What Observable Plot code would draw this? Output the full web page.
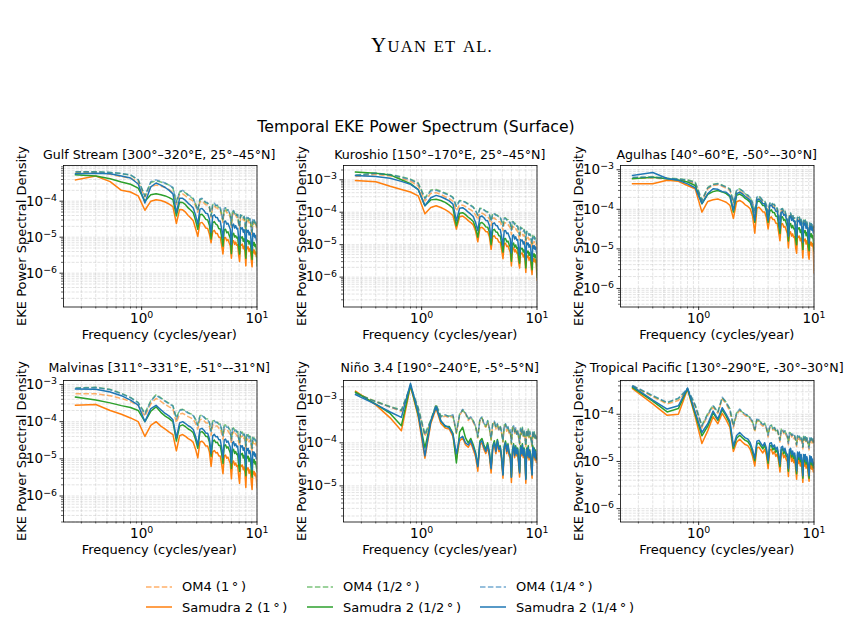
<!DOCTYPE html>
<html>
<head>
<meta charset="utf-8">
<script src="https://cdn.jsdelivr.net/npm/d3@7"></script>
<script src="https://cdn.jsdelivr.net/npm/@observablehq/plot@0.6"></script>
<style>
  body { margin: 0; background: #fff; }
  #fig { position: relative; width: 863px; height: 620px; overflow: hidden; background: #fff;
         font-family: "DejaVu Sans", sans-serif; color: #000; }
  .lbl { position: absolute; white-space: nowrap; line-height: 1; transform: translate(-50%, -50%); }
  .panel { position: absolute; }
  .leg { position: absolute; white-space: nowrap; font-size: 13px; line-height: 1; display: flex; align-items: center; }
</style>
</head>
<body>
<div id="fig"></div>
<script>
// Spectral density values are stored in units of 1e-7.
const PSD_UNIT = 1e-7;

// Frequencies (cycles/year)
const freq = [
  0.267, 0.4, 0.533, 0.667, 0.8, 0.933, 1.067, 1.2, 1.333, 1.467, 1.6, 1.733, 1.867,
  2.0, 2.133, 2.267, 2.4, 2.533, 2.667, 2.8, 2.933, 3.067,
  3.2, 3.333, 3.467, 3.6, 3.733, 3.867, 4.0,
  4.133, 4.267, 4.4, 4.533, 4.667, 4.8, 4.933, 5.067,
  5.2, 5.333, 5.467, 5.6, 5.733, 5.867, 6.0,
  6.133, 6.267, 6.4, 6.533, 6.667, 6.8, 6.933, 7.067,
  7.2, 7.333, 7.467, 7.6, 7.733, 7.867, 8.0,
  8.133, 8.267, 8.4, 8.533, 8.667, 8.8, 8.933, 9.067,
  9.2, 9.333, 9.467, 9.6, 9.733, 9.867, 10.0
];

// ---- Gulf Stream ----
const gulf_om4_1 = [
  6300,6300,5600,4800,4400,3400,1300,2500,2800,2600,2400,2100,1700,
  810,1500,1600,1400,1200,1100,1000,740,490,
  950,1000,890,790,780,630,350,
  710,740,660,650,560,560,390,260,
  540,550,470,490,430,360,190,
  440,460,380,410,350,360,220,170,
  360,340,350,300,320,250,130,
  310,280,300,250,280,240,150,120,
  260,230,250,210,230,190,170];
const gulf_sam_1 = [
  3900,5000,3500,2000,1800,1400,560,1000,1100,1050,950,830,710,
  240,590,575,495,400,340,285,175,105,
  245,258,220,180,175,122,70,
  144,155,126,126,100,100,61,34,
  96,98,80,86,70,58,26,
  75,80,63,73,60,62,32,21,
  65,60,64,48,57,39,16,
  55,48,54,40,48,40,22,15,
  46,37,44,34,39,29,35];
const gulf_om4_2 = [
  6500,6600,6300,5800,5300,3900,1400,3300,3700,3400,3100,2800,2300,
  950,1800,1900,1700,1450,1300,1150,850,560,
  1100,1150,1000,900,880,720,400,
  800,850,740,760,640,650,450,300,
  610,640,540,570,490,420,220,
  500,530,440,470,400,420,250,200,
  410,390,400,340,370,290,150,
  350,320,340,290,320,280,170,140,
  300,260,290,240,270,220,190];
const gulf_sam_2 = [
  5400,5000,4200,3400,2950,2300,1000,1500,1600,1500,1400,1260,1100,
  390,940,920,800,650,560,475,295,165,
  420,435,375,313,300,215,89,
  255,270,230,217,171,171,102,56,
  162,165,133,142,114,94,35,
  120,129,101,110,95,100,51,34,
  104,95,102,77,91,63,26,
  88,77,80,64,77,64,35,24,
  74,60,71,55,63,46,16];
const gulf_om4_4 = [
  6600,6500,6300,5900,5400,4000,1350,3500,3900,3500,3200,2800,2400,
  900,1850,2000,1750,1500,1350,1200,820,540,
  1150,1200,1050,930,900,700,380,
  830,880,760,780,660,670,430,290,
  630,660,560,580,500,410,210,
  520,550,450,480,410,430,240,190,
  420,400,410,350,380,280,140,
  360,330,350,300,330,280,160,130,
  310,270,300,250,280,230,200];
const gulf_sam_4 = [
  5800,6000,5800,5000,4400,3000,890,2500,3200,2800,2400,2000,1600,
  480,1200,1200,1050,870,760,650,410,230,
  600,630,550,460,450,320,135,
  390,420,350,350,280,280,170,93,
  275,280,230,245,200,165,63,
  215,230,180,210,170,178,91,60,
  186,170,182,138,162,112,46,
  158,138,155,115,138,115,62,43,
  132,107,126,98,112,83,70];

// ---- Kuroshio ----
const kuro_om4_1 = [
  12500,14500,13000,11000,9000,6500,2200,3800,4000,3500,3000,2600,2200,
  1100,1700,1650,1500,1300,1180,1050,820,590,
  950,930,870,780,740,610,390,
  660,660,600,580,510,510,390,270,
  470,470,420,420,370,330,205,
  360,355,300,315,270,265,180,140,
  245,225,225,185,200,165,100,
  180,162,170,140,150,133,95,76,
  133,113,126,104,112,94,72];
const kuro_sam_1 = [
  9500,8700,6300,5000,4200,3200,890,1400,1580,1400,1200,1000,790,
  300,726,760,660,550,480,407,264,122,
  326,342,304,252,248,176,71,
  178,188,156,152,120,118,70,37,
  108,110,88,92,72,59,22,
  74,80,60,70,55,58,29,19,
  58,53,55,42,49,33,14,
  47,40,45,33,40,33,18,12,
  38,31,37,29,34,25,8];
const kuro_om4_2 = [
  14000,16000,14500,12500,10500,8000,2800,4800,5000,4400,3900,3400,2900,
  1550,2300,2250,2050,1800,1650,1450,1150,820,
  1320,1300,1200,1080,1030,860,540,
  920,910,840,810,720,700,540,380,
  660,670,590,600,530,470,290,
  520,500,430,450,380,375,260,200,
  350,320,320,265,290,230,142,
  260,235,240,200,215,190,135,108,
  190,162,180,150,160,134,105];
const kuro_sam_2 = [
  17400,15800,14100,10000,7600,5000,1580,2400,2500,2300,2000,1660,1320,
  380,925,965,840,700,610,520,335,170,
  457,480,425,353,347,246,100,
  280,296,246,240,189,186,110,59,
  151,154,123,129,101,83,31,
  104,112,84,98,77,81,40,27,
  81,74,77,59,69,46,19,
  66,56,63,46,56,46,25,17,
  53,44,52,40,48,35,10];
const kuro_om4_4 = [
  13500,15800,14100,12000,10000,7600,2600,4500,4700,4200,3700,3300,2800,
  1480,2240,2190,2000,1740,1580,1410,1100,790,
  1290,1260,1170,1050,1000,830,525,
  890,890,810,790,690,690,525,370,
  645,645,575,575,510,455,280,
  500,490,415,435,370,365,250,195,
  340,310,310,255,280,225,138,
  250,225,235,195,210,185,132,105,
  185,158,175,145,155,130,100];
const kuro_sam_4 = [
  13500,12600,11200,8900,7200,5000,1580,2800,3300,3000,2600,2240,1780,
  540,1320,1380,1200,1000,870,740,480,270,
  725,760,675,560,550,390,158,
  445,470,390,380,300,295,175,93,
  270,275,220,230,180,148,56,
  186,200,150,175,138,145,72,48,
  145,132,138,105,123,83,34,
  117,100,112,83,100,83,45,31,
  95,78,93,72,85,63,50];

// ---- Agulhas ----
const agul_om4_1 = [
  6000,6200,5800,5500,5200,4500,1580,3300,4000,4200,3800,3400,3000,
  1350,2700,2900,2600,2250,2050,1780,1330,760,
  1830,1950,1740,1490,1490,1170,760,
  1300,1400,1190,1190,960,960,630,470,
  920,940,770,800,650,560,300,
  680,730,570,650,530,550,325,280,
  590,530,570,430,500,380,215,
  500,430,480,360,430,360,225,200,
  410,340,400,315,370,290,340];
const agul_sam_1 = [
  4400,4400,5400,5100,4000,3300,850,1580,1740,1820,1660,1510,1260,
  590,1550,1670,1520,1300,1180,1030,680,250,
  1050,1130,1000,860,860,620,320,
  600,645,550,550,445,445,270,160,
  425,435,355,370,300,245,105,
  250,270,210,240,195,205,106,78,
  215,195,210,160,188,130,59,
  180,160,178,132,160,132,71,55,
  152,126,148,118,136,100,25];
const agul_om4_2 = [
  6300,6600,6200,5900,5600,4900,1700,3600,4300,4500,4100,3700,3300,
  1480,3100,3300,2900,2450,2250,1950,1450,860,
  2000,2150,1900,1620,1650,1250,860,
  1400,1520,1300,1340,1050,1080,720,540,
  1000,1050,830,900,700,600,350,
  740,800,620,730,570,600,370,320,
  630,580,640,470,550,430,250,
  540,470,540,390,470,390,260,230,
  450,370,430,340,400,320,360];
const agul_sam_2 = [
  5900,6500,5900,5500,4900,4000,1380,2400,2800,3000,2750,2500,2100,
  855,2250,2430,2200,1890,1710,1490,990,470,
  1530,1640,1460,1240,1240,900,470,
  900,970,825,825,670,670,405,245,
  640,650,530,555,450,370,158,
  410,440,340,390,320,330,172,127,
  350,320,340,260,305,210,96,
  295,260,290,215,260,215,116,90,
  247,205,240,192,221,163,90];
const agul_om4_4 = [
  6500,6500,6000,5800,5400,4700,1660,3500,4200,4400,4000,3600,3200,
  1520,3000,3240,2940,2520,2280,1990,1485,840,
  2040,2180,1940,1660,1660,1300,840,
  1440,1550,1320,1320,1070,1070,700,520,
  1020,1040,850,890,720,620,340,
  760,810,630,720,590,610,360,310,
  650,590,630,480,560,420,240,
  550,480,530,400,480,400,250,220,
  460,380,440,350,410,320,380];
const agul_sam_4 = [
  7200,8500,6000,5400,4400,3500,1400,2500,3300,3200,2800,2700,2240,
  950,2500,2700,2450,2100,1900,1660,1100,525,
  1700,1820,1620,1380,1380,1000,525,
  1200,1290,1100,1100,890,890,540,325,
  850,870,710,740,600,490,210,
  630,675,525,600,490,510,265,195,
  540,490,525,400,470,325,148,
  455,400,445,330,400,330,178,138,
  380,315,370,295,340,250,280];

// ---- Malvinas ----
const malv_om4_1 = [
  5600,5600,5000,4200,3500,2700,1400,3000,4200,3500,2900,2500,2200,
  940,1600,1680,1520,1360,1260,1160,900,630,
  1130,1160,1060,940,920,740,430,
  820,840,760,760,660,660,480,330,
  620,630,570,570,500,450,250,
  500,530,450,480,420,420,280,215,
  420,390,410,340,375,295,170,
  355,325,350,285,320,285,190,150,
  295,260,285,250,265,220,190];
const malv_sam_1 = [
  2750,2900,2000,1580,1260,1000,400,790,1000,760,630,525,450,
  164,420,450,400,350,320,277,182,106,
  284,297,266,220,220,155,63,
  154,168,144,148,120,120,74,40,
  120,126,104,111,91,76,29,
  81,87,68,77,63,66,34,22,
  69,63,68,51,60,41,17,
  59,51,57,41,50,41,22,15,
  47,39,45,35,41,30,17];
const malv_om4_2 = [
  8100,8400,7400,5800,4500,3300,1700,3700,5300,4400,3600,3100,2700,
  1250,2100,2150,1950,1750,1620,1500,1150,820,
  1450,1500,1350,1200,1180,960,570,
  1050,1080,980,970,850,860,620,430,
  800,820,730,740,650,580,330,
  650,680,580,620,540,545,360,280,
  540,505,525,440,485,380,225,
  460,415,450,365,410,365,250,195,
  380,335,365,320,340,285,250];
const malv_sam_2 = [
  4600,3800,3200,2700,2400,2000,1000,1900,2500,1780,1410,1200,1000,
  300,760,820,730,635,580,505,330,193,
  515,540,485,400,400,283,116,
  290,320,273,280,228,228,140,75,
  228,238,196,210,172,144,55,
  167,180,140,158,130,136,69,46,
  143,130,140,105,124,86,35,
  121,105,118,86,103,86,46,32,
  98,80,94,73,84,62,47];
const malv_om4_4 = [
  7900,8300,7200,5600,4400,3200,1580,3500,5100,4200,3500,3000,2600,
  1170,2000,2100,1900,1700,1580,1450,1120,790,
  1410,1450,1320,1170,1150,930,540,
  1020,1050,950,950,830,830,600,415,
  780,790,710,710,630,560,316,
  630,660,560,600,525,525,350,270,
  525,490,510,425,470,370,214,
  445,405,435,355,400,355,240,190,
  370,325,355,310,330,275,240];
const malv_sam_4 = [
  7600,7400,6300,5000,3800,2800,1000,2240,2750,2100,1660,1410,1120,
  365,930,1000,890,775,710,615,405,235,
  630,660,590,490,490,345,141,
  415,455,390,400,325,325,200,107,
  325,340,280,300,245,205,79,
  270,290,225,255,210,220,112,74,
  230,210,225,170,200,138,56,
  195,170,190,138,166,138,74,51,
  158,129,151,117,135,100,107];

// ---- Niño 3.4 ----
const nino_om4_1 = [
  14500,9000,6700,5400,19000,6000,1400,3000,7200,3800,4200,3800,4200,
  1650,4300,5700,4700,3300,3800,3000,2300,1300,
  3300,3800,2600,2300,3000,2100,1150,
  2600,3000,2100,2600,1850,2300,1650,1050,
  2300,2600,1850,2200,1650,1850,920,
  2100,2300,1650,2100,1450,1850,1300,920,
  1950,1550,2050,1400,1750,1300,820,
  1750,1400,1850,1300,1650,1400,1050,820,
  1650,1300,1600,1220,1460,1160,1200];
const nino_sam_1 = [
  15800,7600,3800,1900,21000,4000,440,2800,6300,2800,2200,2100,1400,
  420,1100,1300,900,790,1000,700,480,220,
  900,1000,700,560,800,480,200,
  700,900,560,1000,630,700,380,150,
  700,900,560,800,500,430,120,
  560,800,450,700,500,630,300,160,
  700,500,800,450,630,400,115,
  630,450,700,400,560,450,240,150,
  700,450,630,400,560,350,360];
const nino_om4_2 = [
  14200,9200,7000,5800,21000,6600,1600,3400,7800,4200,4300,4200,4300,
  1700,4700,5800,4800,3700,3800,3300,2400,1350,
  3700,3800,2900,2400,3300,2100,1200,
  2900,3100,2300,2700,2100,2400,1700,1080,
  2600,2700,2100,2300,1850,1900,960,
  2300,2400,1850,2150,1650,1900,1350,950,
  2200,1600,2300,1450,1950,1350,850,
  2000,1450,2100,1350,1850,1450,1080,860,
  1850,1350,1800,1280,1620,1220,1250];
const nino_sam_2 = [
  15000,7900,4800,2500,22000,4500,760,3200,7100,3200,2400,2400,1660,
  340,1780,2300,1300,1000,1260,900,600,300,
  1100,1260,890,700,1000,600,270,
  850,1120,700,1200,800,850,480,190,
  850,1100,700,950,600,520,160,
  700,950,540,850,600,760,380,210,
  850,600,950,540,760,480,150,
  760,540,850,480,680,540,300,190,
  850,540,760,480,680,430,420];
const nino_om4_4 = [
  13800,8900,6800,5600,20000,6300,1510,3200,7600,4000,4500,4000,4500,
  1780,4500,6000,5000,3500,4000,3200,2500,1410,
  3500,4000,2800,2500,3200,2240,1260,
  2800,3200,2240,2800,2000,2500,1780,1120,
  2500,2800,2000,2400,1780,2000,1000,
  2240,2500,1780,2240,1580,2000,1410,1000,
  2100,1660,2200,1510,1900,1410,890,
  1900,1510,2000,1410,1780,1510,1120,890,
  1780,1410,1740,1320,1580,1260,1320];
const nino_sam_4 = [
  13200,7800,5200,3900,24000,5000,500,3200,6800,3200,2500,2240,1580,
  560,1260,1410,1000,890,1120,790,560,280,
  1000,1120,790,630,890,560,250,
  790,1000,630,1120,710,790,450,178,
  790,1000,630,890,560,500,158,
  630,890,500,790,560,710,355,200,
  790,560,890,500,710,450,141,
  710,500,790,450,630,500,280,178,
  790,500,710,450,630,400,400];

// ---- Tropical Pacific ----
const trop_om4_1 = [
  4000,2350,1650,1950,3300,1450,520,950,1400,1050,2100,1650,1150,
  520,980,1200,1050,930,880,770,660,420,
  740,710,610,560,590,490,330,
  520,530,460,490,420,450,355,260,
  440,450,385,420,355,330,225,
  370,385,330,355,305,330,260,208,
  330,295,320,275,305,260,185,
  305,270,305,255,295,255,208,176,
  295,255,295,245,280,232,295];
const trop_sam_1 = [
  3500,1660,950,1000,3400,890,240,450,890,630,1050,760,525,
  162,255,295,255,228,216,180,128,80,
  194,200,173,151,180,137,70,
  173,180,144,161,128,144,100,60,
  144,151,120,137,109,100,48,
  128,137,100,120,95,109,72,42,
  114,90,114,80,100,72,36,
  100,80,100,72,90,75,50,38,
  95,72,90,68,80,60,66];
const trop_om4_2 = [
  4000,2450,1750,2150,3400,1550,580,1050,1550,1100,2250,1800,1300,
  580,1080,1250,1100,1020,920,850,690,470,
  810,740,680,580,650,510,370,
  550,590,490,540,440,490,370,290,
  480,470,420,440,390,345,250,
  410,400,365,370,340,345,290,230,
  345,325,335,300,320,290,205,
  340,285,335,270,320,270,230,195,
  310,280,310,268,295,255,300];
const trop_sam_2 = [
  3700,1900,1120,1320,3500,1000,350,560,1070,740,1260,910,630,
  190,310,360,315,280,265,220,157,103,
  238,246,211,185,220,167,92,
  211,220,176,197,157,176,124,78,
  176,185,146,167,133,124,62,
  157,167,124,146,116,133,88,55,
  139,111,139,99,124,88,44,
  124,99,124,88,111,92,62,44,
  116,88,111,84,99,73,80];
const trop_om4_4 = [
  4100,2500,1780,2200,3500,1580,560,1000,1510,1120,2300,1780,1260,
  560,1050,1290,1120,1000,950,830,710,450,
  790,760,660,600,630,525,355,
  560,575,500,525,450,480,380,280,
  470,480,415,450,380,355,240,
  400,415,355,380,330,355,280,224,
  355,316,345,295,330,280,200,
  330,290,330,275,316,275,224,190,
  316,275,316,263,300,250,316];
const trop_sam_4 = [
  3900,2000,1290,1510,3600,1100,410,630,1170,790,1380,1000,710,
  210,355,410,355,316,300,250,178,117,
  270,280,240,210,250,190,105,
  240,250,200,224,178,200,141,89,
  200,210,166,190,151,141,71,
  178,190,141,166,132,151,100,63,
  158,126,158,112,141,100,50,
  141,112,141,100,126,105,71,50,
  132,100,126,95,112,83,91];

// Series order within each panel (also the legend order)
const seriesNames = ["OM4 (1\u2009°\u2009)", "Samudra 2 (1\u2009°\u2009)",
                     "OM4 (1/2\u2009°\u2009)", "Samudra 2 (1/2\u2009°\u2009)",
                     "OM4 (1/4\u2009°\u2009)", "Samudra 2 (1/4\u2009°\u2009)"];
const seriesColors = ["#ff7f0e", "#ff7f0e", "#2ca02c", "#2ca02c", "#1f77b4", "#1f77b4"];
const seriesDashed = [true, false, true, false, true, false];

const panelTitles = [
  "Gulf Stream [300°–320°E, 25°–45°N]",
  "Kuroshio [150°–170°E, 25°–45°N]",
  "Agulhas [40°–60°E, -50°–-30°N]",
  "Malvinas [311°–331°E, -51°–-31°N]",
  "Niño 3.4 [190°–240°E, -5°–5°N]",
  "Tropical Pacific [130°–290°E, -30°–30°N]"
];
const panelSeries = [
  [gulf_om4_1, gulf_sam_1, gulf_om4_2, gulf_sam_2, gulf_om4_4, gulf_sam_4],
  [kuro_om4_1, kuro_sam_1, kuro_om4_2, kuro_sam_2, kuro_om4_4, kuro_sam_4],
  [agul_om4_1, agul_sam_1, agul_om4_2, agul_sam_2, agul_om4_4, agul_sam_4],
  [malv_om4_1, malv_sam_1, malv_om4_2, malv_sam_2, malv_om4_4, malv_sam_4],
  [nino_om4_1, nino_sam_1, nino_om4_2, nino_sam_2, nino_om4_4, nino_sam_4],
  [trop_om4_1, trop_sam_1, trop_om4_2, trop_sam_2, trop_om4_4, trop_sam_4]
];
const panelYDomains = [
  [1.15e-7, 9.8e-4], [1.2e-7, 2.75e-3], [3.4e-7, 1.28e-3],
  [2.0e-7, 1.28e-3], [1.45e-6, 2.8e-3], [5.2e-7, 5.2e-4]
];
const xDomain = [0.21, 10];

panelSeries.forEach((group, p) => group.forEach((arr, i) => {
  if (arr.length !== freq.length) throw new Error(`${panelTitles[p]} series ${i}: ${arr.length} values`);
}));

// ---- layout ----
const fig = document.getElementById("fig");
const colLeft = [62.5, 343, 620];
const rowTop = [165, 380];
const titleGap = [10, 12];
const FW = 193.5, FH = 141.5;
const ML = 56, MR = 8, MT = 6, MB = 26;

function addLabel(text, x, y, style) {
  const d = document.createElement("div");
  d.className = "lbl";
  d.textContent = text;
  d.style.left = x + "px";
  d.style.top = y + "px";
  Object.assign(d.style, style || {});
  fig.appendChild(d);
  return d;
}

// Tick labels are powers of ten; the exponent is typeset as a raised, smaller tspan.
const fmtPow = v => "10^" + Math.round(Math.log10(v));
function typesetPowers(svg) {
  svg.querySelectorAll("text").forEach(t => {
    const m = /^10\^(-?\d+)$/.exec(t.textContent);
    if (!m) return;
    t.textContent = "";
    const ns = "http://www.w3.org/2000/svg";
    const base = document.createElementNS(ns, "tspan");
    base.textContent = "10";
    const ex = document.createElementNS(ns, "tspan");
    ex.textContent = m[1].replace("-", "\u2212");
    ex.setAttribute("font-size", "9.4px");
    ex.setAttribute("dy", "-0.5em");
    t.appendChild(base);
    t.appendChild(ex);
  });
}

function logTicks([lo, hi]) {
  const major = [], minor = [];
  for (let e = Math.floor(Math.log10(lo)); e <= Math.ceil(Math.log10(hi)); e++) {
    for (let m = 1; m < 10; m++) {
      const v = m * Math.pow(10, e);
      if (v >= lo * 0.9999 && v <= hi * 1.0001) (m === 1 ? major : minor).push(v);
    }
  }
  return {major, minor, all: major.concat(minor)};
}

// header and figure title
const head = addLabel("", 432, 45, {fontFamily: "'Liberation Serif', 'DejaVu Serif', serif", fontSize: "21px", letterSpacing: "1.3px"});
head.innerHTML = 'Y<span style="font-size:16.5px">UAN</span> <span style="font-size:16.5px">ET</span> <span style="font-size:16.5px">AL.</span>';
addLabel("Temporal EKE Power Spectrum (Surface)", 416, 127, {fontSize: "15.7px"});

const gridStyle = {stroke: "#b0b0b0", strokeOpacity: 0.45, strokeWidth: 0.8, strokeDasharray: "3,1.3"};

panelSeries.forEach((group, p) => {
  const row = Math.floor(p / 3);
  const cx = colLeft[p % 3], cy = rowTop[row];
  const ydom = panelYDomains[p];
  const xt = logTicks(xDomain), yt = logTicks(ydom);

  const lineMarks = group.map((vals, i) => {
    const rows = vals.map((v, j) => ({f: freq[j], psd: v * PSD_UNIT}));
    return Plot.line(rows, {
      x: "f", y: "psd",
      stroke: seriesColors[i],
      strokeWidth: 1.5,
      strokeOpacity: seriesDashed[i] ? 0.62 : 1,
      strokeDasharray: seriesDashed[i] ? "5.5,2.4" : null,
      strokeLinejoin: "round",
      strokeLinecap: seriesDashed[i] ? "butt" : "square",
      clip: true
    });
  });

  const chart = Plot.plot({
    width: ML + FW + MR, height: MT + FH + MB,
    marginLeft: ML, marginRight: MR, marginTop: MT, marginBottom: MB,
    style: {fontFamily: "'DejaVu Sans', sans-serif", fontSize: "13px", background: "transparent", color: "#000", overflow: "visible"},
    x: {type: "log", domain: xDomain},
    y: {type: "log", domain: ydom},
    marks: [
      Plot.gridX(xt.all, gridStyle),
      Plot.gridY(yt.all, gridStyle),
      ...lineMarks,
      Plot.frame({stroke: "#000", strokeWidth: 0.8}),
      Plot.axisX(xt.major, {tickSize: 3.5, tickPadding: 3, tickFormat: fmtPow, label: null, fontSize: 13.5, stroke: "#000", strokeWidth: 0.8}),
      Plot.axisX(xt.minor, {tickSize: 2, tickFormat: () => "", label: null, stroke: "#000", strokeWidth: 0.6}),
      Plot.axisY(yt.major, {tickSize: 3.5, tickPadding: 3, tickFormat: fmtPow, label: null, fontSize: 13.5, stroke: "#000", strokeWidth: 0.8}),
      Plot.axisY(yt.minor, {tickSize: 2, tickFormat: () => "", label: null, stroke: "#000", strokeWidth: 0.6})
    ]
  });
  typesetPowers(chart);
  const holder = document.createElement("div");
  holder.className = "panel";
  holder.style.left = (cx - ML) + "px";
  holder.style.top = (cy - MT) + "px";
  holder.appendChild(chart);
  fig.appendChild(holder);

  addLabel(panelTitles[p], cx + FW / 2, cy - titleGap[row], {fontSize: "12.6px"});
  addLabel("Frequency (cycles/year)", cx + FW / 2, cy + FH + 27.5, {fontSize: "13px"});
  addLabel("EKE Power Spectral Density", cx - 42, cy + FH / 2, {fontSize: "13px", transform: "translate(-50%, -50%) rotate(-90deg)"});
});

// legend: three columns, two rows (column-major)
const legX = [146, 307, 480];
const legY = [586.7, 607];
seriesNames.forEach((name, i) => {
  const col = Math.floor(i / 2), row = i % 2;
  const item = document.createElement("div");
  item.className = "leg";
  item.style.left = legX[col] + "px";
  item.style.top = (legY[row] - 8) + "px";
  item.style.height = "16px";
  const dash = seriesDashed[i] ? 'stroke-dasharray="5.5,2.4"' : "";
  const op = seriesDashed[i] ? 0.62 : 1;
  item.innerHTML = `<svg width="36" height="16" style="display:block"><line x1="0" x2="26" y1="8" y2="8" stroke="${seriesColors[i]}" stroke-width="1.5" stroke-opacity="${op}" ${dash}/></svg><span>${name}</span>`;
  fig.appendChild(item);
});
</script>
</body>
</html>
